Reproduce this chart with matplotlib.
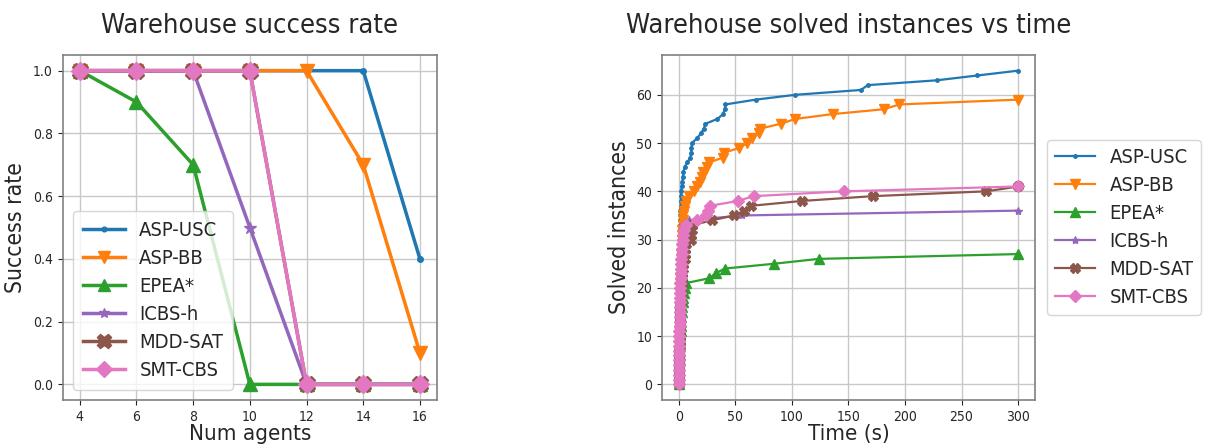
import matplotlib
matplotlib.use('Agg')
import matplotlib.pyplot as plt
import numpy as np

# left plot: success rate vs number of agents
agents = [4, 6, 8, 10, 12, 14, 16]
names = ['ASP-USC', 'ASP-BB', 'EPEA*', 'ICBS-h', 'MDD-SAT', 'SMT-CBS']
rate_asp_usc = [1, 1, 1, 1, 1, 1, 0.4]
rate_asp_bb = [1, 1, 1, 1, 1, 0.7, 0.1]
rate_epea = [1, 0.9, 0.7, 0, 0, 0, 0]
rate_icbs = [1, 1, 1, 0.5, 0, 0, 0]
rate_mdd = [1, 1, 1, 1, 0, 0, 0]
rate_smt = [1, 1, 1, 1, 0, 0, 0]

# right plot: time (s) at which the k-th instance was solved (k = 0, 1, 2, ...)
t_asp_usc = [0.05, 0.05, 0.06, 0.07, 0.08, 0.09, 0.1, 0.1, 0.12, 0.14,
             0.15, 0.17, 0.2, 0.22, 0.25, 0.27, 0.3, 0.32, 0.35, 0.38,
             0.4, 0.42, 0.45, 0.5, 0.55, 0.6, 0.65, 0.7, 0.75, 0.8,
             0.85, 0.9, 0.95, 1.0, 1.1, 1.2, 1.3, 1.5, 1.7, 1.9,
             2.0, 2.4, 3.0, 3.5, 4.0, 5.0, 7.4, 10, 11, 11,
             11.5, 16, 19.4, 22, 23.5, 34, 39, 40.6, 41, 68,
             103, 161, 167, 228, 264, 300]
t_asp_bb = [0.08, 0.1, 0.12, 0.15, 0.18, 0.2, 0.22, 0.25, 0.3, 0.35,
            0.4, 0.45, 0.5, 0.55, 0.6, 0.65, 0.7, 0.8, 0.9, 1.0,
            1.1, 1.2, 1.3, 1.4, 1.5, 1.7, 1.9, 2.1, 2.3, 2.5,
            2.7, 2.9, 3.1, 3.3, 3.5, 4.0, 4.7, 5.6, 6.5, 9,
            13, 16, 19, 20, 21, 25, 27, 39, 40, 53.5,
            60, 65, 70.6, 72, 90, 103, 136, 181, 195, 300]
t_epea = [0.1, 0.15, 0.2, 0.3, 0.4, 0.5, 0.6, 0.7, 0.8, 1.0,
          1.2, 1.4, 1.6, 1.9, 2.2, 2.6, 3.0, 3.6, 4.0, 4.4,
          5.6, 6.5, 27, 32.4, 40.6, 84.4, 123.5, 300]
t_icbs = [0.05, 0.06, 0.08, 0.1, 0.12, 0.14, 0.16, 0.18, 0.2, 0.22,
          0.25, 0.28, 0.3, 0.33, 0.36, 0.4, 0.45, 0.5, 0.55, 0.6,
          0.7, 0.8, 0.9, 1.0, 1.1, 1.2, 1.4, 1.6, 1.8, 2.0,
          2.3, 2.6, 3.0, 3.5, 9, 56, 300]
t_mdd = [0.1, 0.15, 0.2, 0.25, 0.3, 0.35, 0.4, 0.45, 0.5, 0.6,
         0.7, 0.8, 0.9, 1.0, 1.1, 1.2, 1.3, 1.5, 1.7, 1.9,
         2.1, 2.3, 2.6, 3.0, 3.4, 4.0, 5.0, 5.2, 5.6, 6.5,
         11, 11, 11.5, 11.8, 29.4, 48.5, 58, 64, 108.5, 171.5,
         272, 300]
t_smt = [0.05, 0.08, 0.1, 0.12, 0.15, 0.18, 0.2, 0.25, 0.3, 0.35,
         0.4, 0.45, 0.5, 0.55, 0.6, 0.7, 0.8, 0.9, 1.0, 1.1,
         1.2, 1.3, 1.4, 1.5, 1.7, 1.9, 2.1, 2.4, 2.7, 3.0,
         3.4, 3.9, 4.5, 6.5, 16, 24, 26, 27.6, 52, 66,
         146, 300]

colors = ['#1f77b4', '#ff7f0e', '#2ca02c', '#9467bd', '#8c564b', '#e377c2']
markers = ['.', 'v', '^', '*', 'X', 'D']
size_left = [8, 10, 10, 9, 12, 9]
size_right = [5, 7, 6.5, 6, 6.5, 6.5]

plt.rcParams['font.family'] = 'DejaVu Sans'
plt.rcParams['font.stretch'] = 'condensed'
plt.rcParams['text.color'] = '#262626'
plt.rcParams['axes.labelcolor'] = '#262626'
plt.rcParams['xtick.color'] = '#262626'
plt.rcParams['ytick.color'] = '#262626'
plt.rcParams['xtick.labelsize'] = 10
plt.rcParams['ytick.labelsize'] = 10

fig = plt.figure(figsize=(12.07, 4.47), dpi=100)
ax1 = fig.add_axes([0.052, 0.105, 0.31, 0.772])
ax2 = fig.add_axes([0.5485, 0.105, 0.309, 0.772])

rates = [rate_asp_usc, rate_asp_bb, rate_epea, rate_icbs, rate_mdd, rate_smt]
for i in range(len(names)):
    ax1.plot(agents, rates[i], marker=markers[i], color=colors[i], lw=2.5,
             ms=size_left[i], label=names[i])

times = [t_asp_usc, t_asp_bb, t_epea, t_icbs, t_mdd, t_smt]
for i in range(len(names)):
    ax2.plot(times[i], np.arange(len(times[i])), marker=markers[i], color=colors[i],
             lw=1.6, ms=size_right[i], label=names[i])

for ax in [ax1, ax2]:
    ax.grid(True, color='#c8c8c8', lw=1)
    ax.set_axisbelow(True)
    for s in ax.spines.values():
        s.set_color('#808080')
        s.set_linewidth(1.2)

ax1.set_xticks(agents)
ax1.set_yticks([0.0, 0.2, 0.4, 0.6, 0.8, 1.0])
ax1.set_title('Warehouse success rate', fontsize=19.5, pad=16)
ax1.set_xlabel('Num agents', fontsize=16, labelpad=0)
ax1.set_ylabel('Success rate', fontsize=16.5)
ax1.legend(loc='lower left', fontsize=14.5, borderpad=0.5, handlelength=2.1,
           handletextpad=0.7, labelspacing=0.45, markerscale=0.85)

ax2.set_xticks([0, 50, 100, 150, 200, 250, 300])
ax2.set_title('Warehouse solved instances vs time', fontsize=19.5, pad=16)
ax2.set_xlabel('Time (s)', fontsize=16, labelpad=0)
ax2.set_ylabel('Solved instances', fontsize=16.5)
ax2.legend(loc='center left', bbox_to_anchor=(1.032, 0.5), borderaxespad=0,
           fontsize=14.5, handlelength=2.0, handletextpad=0.7, labelspacing=0.45)

plt.savefig('out.png', dpi=100)
